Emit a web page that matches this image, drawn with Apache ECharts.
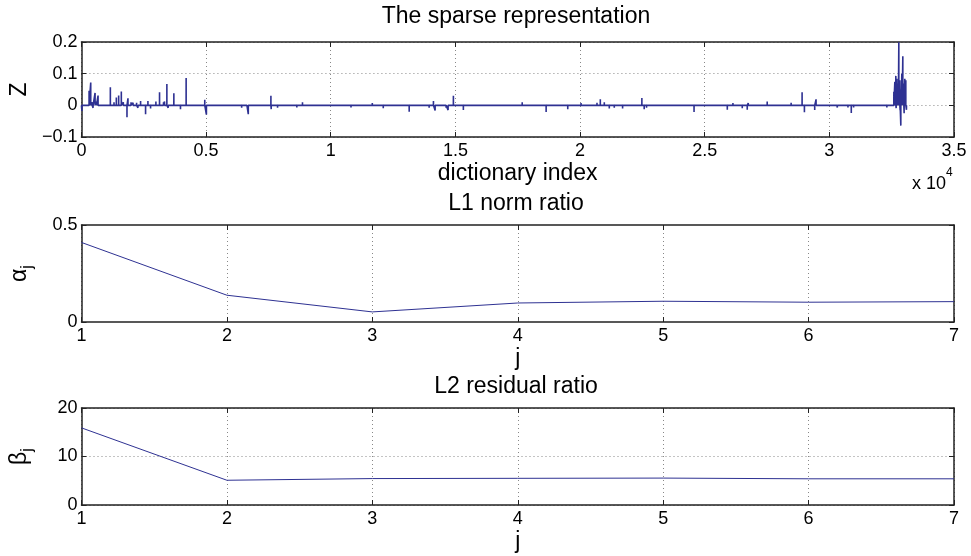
<!DOCTYPE html>
<html>
<head>
<meta charset="utf-8">
<script src="https://cdn.jsdelivr.net/npm/echarts@6/dist/echarts.min.js"></script>
<style>
html,body{margin:0;padding:0;background:#fff;}
#c{width:971px;height:556px;}
</style>
</head>
<body>
<div id="c"></div>
<script>
// ---------- DATA ----------
// Sparse representation: non-zero coefficients (dictionary index, value)
const spikeIndex = [
  20,307,373,430,467,547,600,667,800,1000,1160,1307,1400,1493,1600,1680,1827,1867,1990,2070,
  2150,2213,2267,2373,2450,2573,2667,2773,2987,3133,3293,3333,3427,3480,3707,3800,3973,4200,4373,4533,
  4800,4947,5013,5200,5453,5850,6427,6640,6693,7200,7600,7613,7867,8080,8640,8867,
  9440,10813,11173,11667,12107,12640,13147,13533,13707,13947,14120,14187,14387,14627,14707,14920,15320,15667,16040,16307,17680,17840,
  18067,18640,19280,19507,20040,20213,20680,20813,20973,21173,21373,21613,21707,22480,22573,22667,23240,23973,24573,25040,25573,25907,26133,26507,26707,26747,
  27507,28173,28467,28907,29000,29107,29413,29467,30307,30320,30747,30880,30973,31507,32307,
  32587,32600,32627,32653,32667,32680,32707,32720,32747,32767,32787,32800,32827,32840,32867,32880,32907,32920,32947,32960,32987,33000,33027,33040,33067,33093
];
const spikeValue = [
  -0.018,0.046,0.072,0.010,-0.008,0.039,0.012,0.031,0.004,-0.003,0.057,0.010,0.025,0.031,0.044,0.010,-0.038,0.022,0.010,0.008,
  0.006,0.008,-0.008,0.014,0.005,-0.028,0.014,-0.010,0.012,0.041,0.010,0.012,0.067,-0.008,0.038,0.004,-0.012,0.086,0.004,-0.004,
  0.005,0.018,-0.029,0.004,-0.005,0.004,-0.008,0.005,-0.028,0.004,0.030,-0.012,-0.008,0.005,-0.007,0.010,
  -0.005,-0.007,0.004,0.007,-0.009,0.005,-0.020,0.005,-0.006,-0.008,0.014,-0.016,0.004,-0.008,-0.015,0.030,-0.015,0.005,-0.006,0.004,0.010,0.004,
  0.006,-0.021,0.005,-0.012,0.007,0.006,0.008,0.019,0.010,-0.010,-0.008,0.006,-0.010,0.023,-0.012,-0.008,0.004,0.005,-0.021,0.004,0.005,-0.014,0.007,-0.009,-0.014,0.007,
  0.012,-0.005,0.008,0.041,-0.022,0.004,-0.015,0.019,0.005,-0.007,-0.007,-0.024,-0.007,0.003,-0.007,
  0.043,-0.005,0.074,0.030,0.093,-0.009,0.084,0.020,0.069,0.010,0.199,0.040,0.079,-0.015,-0.064,0.050,0.100,0.030,0.155,0.020,0.069,-0.025,0.084,0.010,0.079,-0.014
];
const vectorLength = 33100;

const jValues = [1, 2, 3, 4, 5, 6, 7];
const alphaValues = [0.41, 0.138, 0.052, 0.098, 0.107, 0.102, 0.105];
const betaValues = [15.9, 5.1, 5.45, 5.5, 5.55, 5.4, 5.4];

const topXTickLabels = ['0', '0.5', '1', '1.5', '2', '2.5', '3', '3.5'];
const topYTickLabels = ['\u22120.1', '0', '0.1', '0.2'];
const jTickLabels = ['1', '2', '3', '4', '5', '6', '7'];
const alphaTickLabels = ['0', '0.5'];
const betaTickLabels = ['0', '10', '20'];

// ---------- BUILD ----------
const sparseLine = [[0, 0]];
for (let k = 0; k < spikeIndex.length; k++) {
  const i = spikeIndex[k];
  sparseLine.push([i - 1, 0], [i, spikeValue[k]], [i + 1, 0]);
}
sparseLine.push([vectorLength, 0]);

const FONT = '"Liberation Sans", Arial, Helvetica, sans-serif';
const LINE = '#2E3192';
const GRID_LEFT = 79, GRID_W = 875;
const grids = [
  {left: GRID_LEFT, top: 42, width: GRID_W, height: 95},
  {left: GRID_LEFT, top: 225, width: GRID_W, height: 97},
  {left: GRID_LEFT, top: 408, width: GRID_W, height: 97}
];

const dotted = {show: true, lineStyle: {color: '#888', width: 1, type: [1, 3]}};
const boxLine = {show: true, onZero: false, lineStyle: {color: '#222', width: 1.5}};
const tick = {show: true, inside: true, length: 5, lineStyle: {color: '#222'}};
const lab = {color: '#000', fontSize: 18, fontFamily: FONT};

function xPair(gi, min, max, interval, labels, name, split) {
  return [
    {type: 'value', gridIndex: gi, position: 'bottom', min, max, interval,
     axisLine: boxLine, axisTick: tick,
     axisLabel: Object.assign({margin: 5, formatter: (v) => labels[Math.round((v - min) / interval)]}, lab),
     splitLine: split,
     name, nameLocation: 'middle', nameGap: 25,
     nameTextStyle: {fontSize: 23, color: '#000', fontFamily: FONT}},
    {type: 'value', gridIndex: gi, position: 'top', min, max, interval,
     axisLine: boxLine, axisTick: tick, axisLabel: {show: false}, splitLine: {show: false}}
  ];
}
function yPair(gi, min, max, interval, labels, name, split) {
  return [
    {type: 'value', gridIndex: gi, position: 'left', min, max, interval,
     axisLine: boxLine, axisTick: tick,
     axisLabel: Object.assign({margin: 4, formatter: (v) => labels[Math.round((v - min) / interval)]}, lab),
     splitLine: split,
     name, nameLocation: 'middle', nameGap: 46, nameRotate: 90,
     nameTextStyle: {fontSize: 23, color: '#000', fontFamily: FONT,
       rich: {
         a: {fontSize: 23, fontFamily: FONT, color: '#000', lineHeight: 32, verticalAlign: 'middle'},
         s: {fontSize: 16, fontFamily: FONT, color: '#000', lineHeight: 32, verticalAlign: 'bottom'}
       }}},
    {type: 'value', gridIndex: gi, position: 'right', min, max, interval,
     axisLine: boxLine, axisTick: tick, axisLabel: {show: false}, splitLine: {show: false}}
  ];
}

const xAxes = [].concat(
  xPair(0, 0, 35000, 5000, topXTickLabels, 'dictionary index', dotted),
  xPair(1, 1, 7, 1, jTickLabels, 'j', dotted),
  xPair(2, 1, 7, 1, jTickLabels, 'j', dotted)
);
const yAxes = [].concat(
  yPair(0, -0.1, 0.2, 0.1, topYTickLabels, 'Z', dotted),
  yPair(1, 0, 0.5, 0.5, alphaTickLabels, '{a|\u03b1}{s|j}', {show: false}),
  yPair(2, 0, 20, 10, betaTickLabels, '{a|\u03b2}{s|j}', dotted)
);

const titleStyle = {fontSize: 23, fontFamily: FONT, fill: '#000', align: 'center', verticalAlign: 'middle'};
const chart = echarts.init(document.getElementById('c'), null, {renderer: 'canvas'});
chart.setOption({
  animation: false,
  backgroundColor: '#fff',
  grid: grids,
  xAxis: xAxes,
  yAxis: yAxes,
  series: [
    {type: 'line', xAxisIndex: 0, yAxisIndex: 0, data: sparseLine, showSymbol: false, symbol: 'none',
     lineStyle: {color: LINE, width: 1.6}, z: 3},
    {type: 'line', xAxisIndex: 2, yAxisIndex: 2, data: jValues.map((j, i) => [j, alphaValues[i]]),
     showSymbol: false, symbol: 'none', lineStyle: {color: LINE, width: 1}, z: 3},
    {type: 'line', xAxisIndex: 4, yAxisIndex: 4, data: jValues.map((j, i) => [j, betaValues[i]]),
     showSymbol: false, symbol: 'none', lineStyle: {color: LINE, width: 1}, z: 3}
  ],
  graphic: [
    {type: 'text', x: 516, y: 17, style: Object.assign({text: 'The sparse representation'}, titleStyle)},
    {type: 'text', x: 516, y: 204, style: Object.assign({text: 'L1 norm ratio'}, titleStyle)},
    {type: 'text', x: 516, y: 387, style: Object.assign({text: 'L2 residual ratio'}, titleStyle)},
    {type: 'text', x: 912, y: 180, style: {
      text: '{m|x 10}{p|4}', verticalAlign: 'middle', align: 'left',
      rich: {
        m: {fontSize: 18, fontFamily: FONT, fill: '#000', color: '#000', lineHeight: 26, verticalAlign: 'bottom'},
        p: {fontSize: 12, fontFamily: FONT, fill: '#000', color: '#000', lineHeight: 26, verticalAlign: 'top'}
      }}}
  ]
});
</script>
</body>
</html>
